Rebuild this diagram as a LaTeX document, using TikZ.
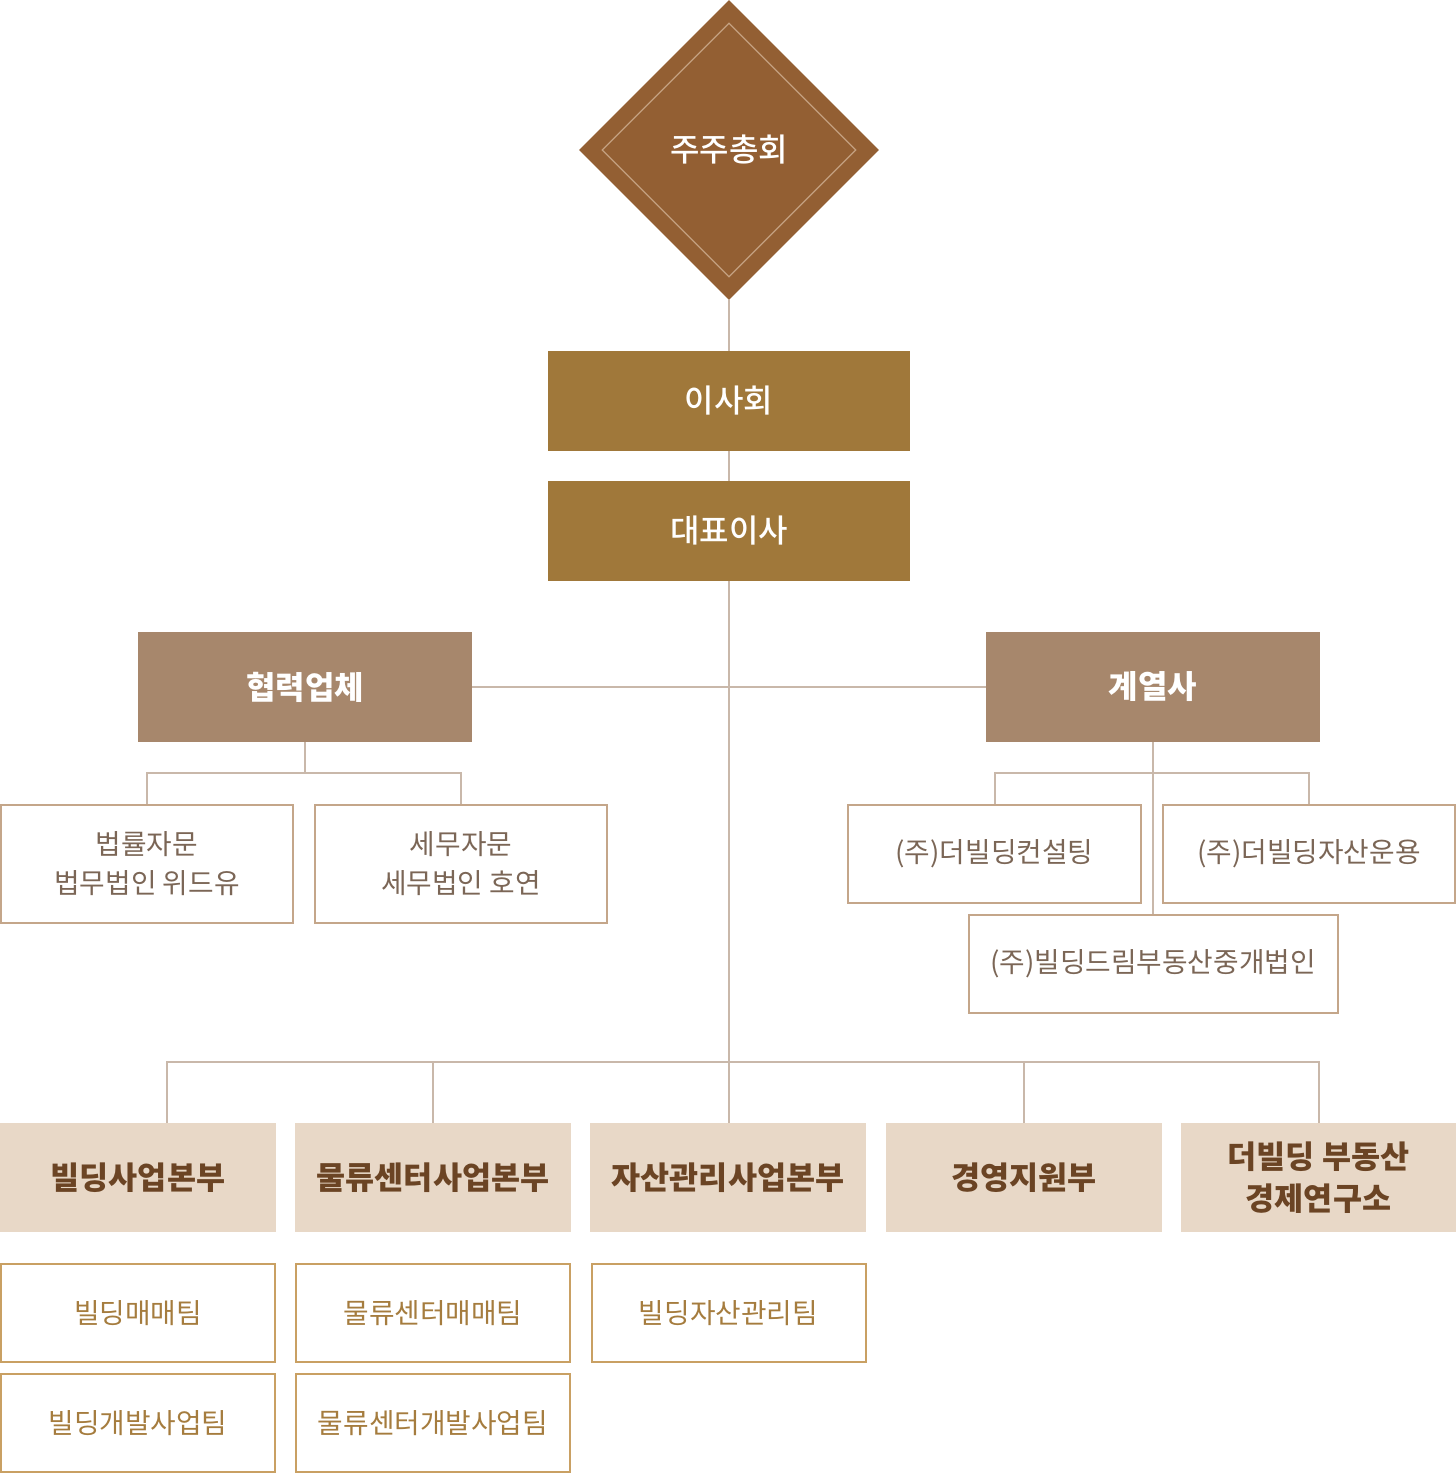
\documentclass[tikz,border=0pt]{standalone}
\usepackage{fontspec}
\setmainfont{Noto Sans CJK KR}
\newfontfamily\krmedium{Noto Sans CJK KR Medium}
\usepackage{tikz}
\usetikzlibrary{shapes.geometric}
\usepackage{xcolor}
\definecolor{gmbrown}{HTML}{935F33}
\definecolor{gmline}{HTML}{C4A080}
\definecolor{boardgold}{HTML}{A0783A}
\definecolor{headbrown}{HTML}{A7876C}
\definecolor{linkgray}{HTML}{C9B8AA}
\definecolor{subline}{HTML}{C4A68A}
\definecolor{subtext}{HTML}{7B6656}
\definecolor{divfill}{HTML}{E8D8C7}
\definecolor{divtext}{HTML}{6B4424}
\definecolor{teamline}{HTML}{C9A063}
\definecolor{teamtext}{HTML}{A57C3E}

\begin{document}
\begin{tikzpicture}[x=0.5pt,y=-0.5pt,
  link/.style={draw=linkgray,line width=1pt},
  topbox/.style={fill=boardgold,text=white,minimum width=181pt,minimum height=50pt,inner sep=0pt,font=\fontsize{16}{18}\krmedium},
  headbox/.style={fill=headbrown,text=white,minimum width=167pt,minimum height=55pt,inner sep=0pt,font=\fontsize{16}{18}\selectfont\bfseries},
  subbox/.style={draw=subline,line width=1pt,text=subtext,minimum width=146pt,minimum height=49pt,inner sep=0pt,align=center,font=\fontsize{13.9}{19.5}\selectfont},
  divbox/.style={fill=divfill,text=divtext,minimum width=138pt,minimum height=54.5pt,inner sep=0pt,align=center,font=\fontsize{15.8}{21}\selectfont\bfseries},
  teambox/.style={draw=teamline,line width=1pt,text=teamtext,minimum width=137pt,minimum height=49pt,inner sep=0pt,font=\fontsize{13.9}{16}\selectfont}]
\useasboundingbox (0,0) rectangle (1456,1473);

% top of the chart
\node[diamond,fill=gmbrown,text=white,minimum width=150pt,minimum height=150pt,inner sep=0pt,font=\fontsize{16}{18}\krmedium] (gm) at (729,150) {주주총회};
\node[diamond,draw=gmline,line width=0.6pt,minimum width=127pt,minimum height=127pt,inner sep=0pt] (gmin) at (gm.center) {};
\node[topbox] (board) at (729,401) {이사회};
\node[topbox] (ceo) at (729,531) {대표이사};

% partners and affiliates
\node[headbox] (partner) at (305,687) {협력업체};
\node[headbox] (affil) at (1153,687) {계열사};
\node[subbox,minimum height=59pt] (law) at (147,864) {법률자문\\법무법인 위드유};
\node[subbox,minimum height=59pt] (tax) at (461,864) {세무자문\\세무법인 호연};
\node[subbox,minimum width=146.5pt] (cons) at (994.5,854) {(주)더빌딩컨설팅};
\node[subbox] (asset) at (1309,854) {(주)더빌딩자산운용};
\node[subbox,minimum width=184.5pt] (dream) at (1153,964) {(주)빌딩드림부동산중개법인};

% divisions
\node[divbox] (d1) at (138,1177.5) {빌딩사업본부};
\node[divbox] (d2) at (433,1177.5) {물류센터사업본부};
\node[divbox] (d3) at (728,1177.5) {자산관리사업본부};
\node[divbox] (d4) at (1024,1177.5) {경영지원부};
\node[divbox] (d5) at (1318.5,1177.5) {더빌딩 부동산\\경제연구소};

% teams
\node[teambox] (t1) at (138,1313) {빌딩매매팀};
\node[teambox] (t2) at (138,1423) {빌딩개발사업팀};
\node[teambox] (t3) at (433,1313) {물류센터매매팀};
\node[teambox] (t4) at (433,1423) {물류센터개발사업팀};
\node[teambox] (t5) at (728.5,1313) {빌딩자산관리팀};

% connectors
\coordinate (pbar) at (305,773);
\coordinate (abar) at (1153,773);
\coordinate (dbar) at (729,1062);
\coordinate (d1top) at (167,1123);
\draw[link] (gm.south) -- (board.north);
\draw[link] (board.south) -- (ceo.north);
\draw[link] (ceo.south) -- (dbar) -- (dbar |- d3.north);
\draw[link] (partner.east) -- (affil.west);
\draw[link] (partner.south) -- (pbar);
\draw[link] (law.north) |- (pbar) -| (tax.north);
\draw[link] (affil.south) -- (dream.north);
\draw[link] (cons.north) |- (abar) -| (asset.north);
\draw[link] (d1top) |- (dbar) -| (d5.north);
\draw[link] (d2.north) -- (d2.north |- dbar);
\draw[link] (d4.north) -- (d4.north |- dbar);
\end{tikzpicture}
\end{document}
